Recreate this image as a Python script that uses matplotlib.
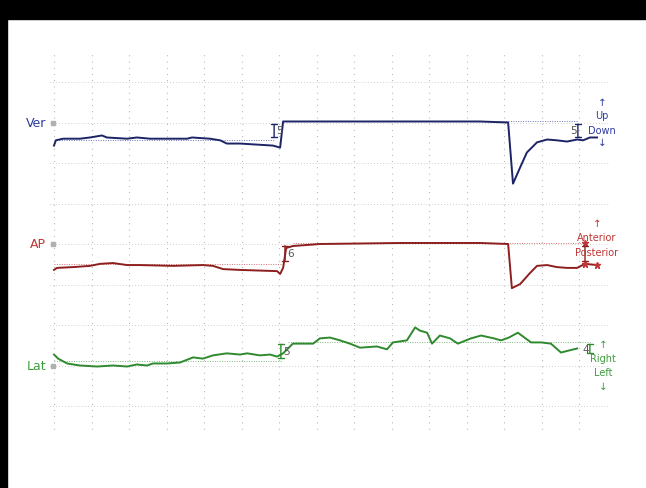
import numpy as np
import matplotlib.pyplot as plt
from matplotlib.patches import Rectangle

# time axis in grid columns, channel values in mm (10 mm per grid row)
ver_t = [0.0, 0.05, 0.24, 0.69, 0.96, 1.28, 1.41, 1.95, 2.21, 2.56, 3.55, 3.68, 4.16,
         4.43, 4.61, 4.96, 5.84, 6.03, 6.11, 7.09, 9.23, 11.36, 12.11, 12.24, 12.43,
         12.61, 12.88, 13.15, 13.41, 13.68, 13.95, 14.11, 14.29, 14.48]
ver_v = [-5.7, -4.4, -4.0, -4.0, -3.7, -3.2, -3.7, -4.0, -3.7, -4.0, -4.0, -3.7, -4.0,
         -4.4, -5.2, -5.2, -5.7, -6.2, 0.25, 0.25, 0.25, 0.25, 0.0, -15.1, -11.1,
         -7.4, -4.9, -4.2, -4.4, -4.7, -4.2, -4.4, -3.7, -3.7]

ap_t = [0.0, 0.08, 0.51, 0.96, 1.23, 1.57, 1.95, 2.29, 3.17, 3.97, 4.24, 4.51, 4.96,
        5.95, 6.03, 6.11, 6.19, 6.37, 7.09, 9.23, 11.36, 12.11, 12.21, 12.43, 12.69,
        12.88, 13.15, 13.41, 13.68, 13.95, 14.16, 14.48]
ap_v = [-6.4, -5.9, -5.7, -5.4, -4.9, -4.7, -5.2, -5.2, -5.4, -5.2, -5.4, -6.2, -6.4,
        -6.7, -7.4, -5.9, -1.0, -0.5, 0.0, 0.25, 0.25, 0.0, -10.9, -9.9, -7.2,
        -5.4, -5.2, -5.7, -5.9, -5.9, -4.9, -5.2]

lat_t = [0.0, 0.11, 0.35, 0.69, 1.15, 1.57, 1.95, 2.21, 2.48, 2.64, 3.01, 3.36, 3.71,
         3.97, 4.24, 4.61, 4.96, 5.15, 5.49, 5.76, 5.95, 6.11, 6.37, 6.91, 7.09, 7.36,
         7.63, 7.89, 8.16, 8.61, 8.88, 9.04, 9.41, 9.63, 9.76, 9.95, 10.08, 10.29,
         10.56, 10.77, 11.12, 11.39, 11.73, 11.92, 12.13, 12.37, 12.72, 12.99, 13.25,
         13.52, 13.73, 13.95]
lat_v = [2.7, 1.7, 0.5, 0.0, -0.25, 0.0, -0.25, 0.25, 0.0, 0.5, 0.5, 0.74, 2.0,
         1.7, 2.5, 3.0, 2.7, 3.0, 2.5, 2.7, 2.2, 3.0, 5.4, 5.4, 6.7, 6.9, 6.2, 5.4,
         4.4, 4.7, 4.0, 5.7, 6.2, 9.4, 8.6, 8.1, 5.4, 7.4, 6.7, 5.4, 6.7, 7.4, 6.7,
         6.2, 6.9, 8.1, 5.7, 5.7, 5.4, 3.2, 3.7, 4.2]

channels = ["Ver", "AP", "Lat"]
offsets = [7, 4, 1]
base_levels = [-4.2, -4.9, 1.2]
step_levels = [0.25, 0.25, 5.9]
end_levels = [-4.2, -4.9, 2.3]
step_sizes = ["5", "6", "5"]
end_sizes = ["5", "", "4"]
dir_labels = [("Up", "Down"), ("Anterior", "Posterior"), ("Right", "Left")]

line_cols = ["#1c2466", "#8e1f1f", "#2f8a2f"]
text_cols = ["#2d3c9c", "#c03535", "#3e9e3e"]


def px(x, y):
    # pixel position in the screenshot -> data coordinates (layout only)
    return (x - 54) / 37.5, (407 - y) / 40.5


fig = plt.figure(figsize=(6.46, 4.89), dpi=100)
ax = fig.add_axes([0, 0, 1, 1])
x0, y0 = px(0, 489)
x1, y1 = px(646, 0)
ax.set_xlim(x0, x1)
ax.set_ylim(y0, y1)
ax.axis("off")

# grid
for k in range(15):
    ax.plot([k, k], [px(0, 430)[1], px(0, 55)[1]], color="#909090", lw=0.8,
            dashes=(0.6, 5.0), solid_capstyle="butt")
for k in range(9):
    ax.plot([px(50, 0)[0], px(610, 0)[0]], [k, k], color="#b4b4b4", lw=0.7,
            dashes=(0.6, 2.4))

series = [(ver_t, ver_v), (ap_t, ap_v), (lat_t, lat_v)]
step_t = [5.87, 6.16, 6.05]
end_t = [13.97, 14.16, 14.29]

for i, name in enumerate(channels):
    off = offsets[i]
    t, v = series[i]
    y = off + np.array(v) / 10.0

    # reference levels
    ax.plot([0, step_t[i]], [off + base_levels[i] / 10] * 2, color=text_cols[i],
            lw=0.7, dashes=(1, 1.5), alpha=0.7)
    ax.plot([step_t[i] + 0.2, end_t[i]], [off + step_levels[i] / 10] * 2,
            color=text_cols[i], lw=0.7, dashes=(1, 1.5), alpha=0.7)

    ax.plot(t, y, color=line_cols[i], lw=1.4)

    # step brackets
    hi = off + step_levels[i] / 10
    for bt, lo_mm, lab, ha in [(step_t[i], base_levels[i], step_sizes[i], "left"),
                               (end_t[i], end_levels[i], end_sizes[i], "right")]:
        lo = off + lo_mm / 10
        ax.annotate("", xy=(bt, hi), xytext=(bt, lo),
                    arrowprops=dict(arrowstyle="|-|,widthA=0.2,widthB=0.2",
                                    color=line_cols[i], lw=1.0))
        if lab:
            dx = 0.06 if ha == "left" else -0.02
            ax.text(bt + dx, (lo + hi) / 2, lab, color="#555555", fontsize=7.5,
                    ha=ha, va="center")

    # channel label + marker
    lx, ly = px(46, 0)
    ax.text(lx, off, name, color=text_cols[i], fontsize=9, ha="right", va="center")
    ax.plot([-0.03], [off], marker="s", ms=3.5, color="#b0b0b0", lw=0)

# direction labels on the right
dir_pos = [(602, 103, 116, 131, 143), (597, 224, 238, 253, None), (603, 345, 359, 373, 387)]
for i, (xp, ua, up, dn, da) in enumerate(dir_pos):
    c = text_cols[i]
    ax.text(*px(xp, ua), "\u2191", color=c, fontsize=7.5, ha="center", va="center")
    ax.text(*px(xp, up), dir_labels[i][0], color=c, fontsize=7, ha="center", va="center")
    ax.text(*px(xp, dn), dir_labels[i][1], color=c, fontsize=7, ha="center", va="center")
    if da is not None:
        ax.text(*px(xp, da), "\u2193", color=c, fontsize=7.5, ha="center", va="center")

# AP end markers
ax.plot([14.16, 14.16, 14.48], [4.025, 3.51, 3.48], lw=0, marker="*", ms=5, color="#c03535")

# black frame bands of the screenshot
fig.patches.append(Rectangle((0, 1 - 20 / 489), 1, 20 / 489, transform=fig.transFigure,
                             color="black", zorder=10))
fig.patches.append(Rectangle((0, 0), 7 / 646, 1, transform=fig.transFigure,
                             color="black", zorder=10))

fig.savefig("out.png", dpi=100, facecolor="white")
